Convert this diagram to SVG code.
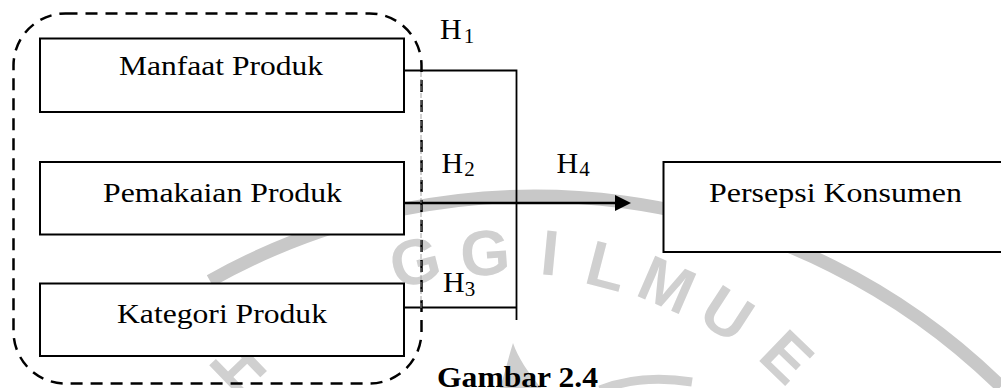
<svg xmlns="http://www.w3.org/2000/svg" width="1001" height="388" viewBox="0 0 1001 388">
  <style>
    .box { fill: #ffffff; stroke: #000000; stroke-width: 2; }
    .lbl { font-family: "Liberation Serif", "Times New Roman", serif; font-size: 27.5px; fill: #000000; }
    .hyp { font-family: "Liberation Serif", "Times New Roman", serif; font-size: 30px; fill: #000000; }
    .sub { font-size: 21px; }
    .wire { fill: none; stroke: #000000; stroke-width: 1.8; }
    .wm { font-family: "Liberation Sans", Arial, sans-serif; font-size: 64px; font-weight: bold; fill: #d0d0d0; text-anchor: middle; }
  </style>
  <defs>
    <marker id="arrow" markerUnits="userSpaceOnUse" markerWidth="16" markerHeight="16" viewBox="0 0 16 16" refX="0" refY="8" orient="auto">
      <path d="M0,0 L16,8 L0,16 Z" fill="#000000"/>
    </marker>
  </defs>

  <rect width="1001" height="388" fill="#ffffff"/>

  <!-- faint background seal -->
  <g id="seal">
    <path d="M210,280.8 A665,665 0 0 1 1001,386.6" fill="none" stroke="#c8c8c8" stroke-width="13"/>
    <path d="M500,388 C505,372 509,356 513,343 C518,358 528,372 541,388 Z" fill="#cecece"/>
    <path d="M600,390 Q640,374 692,382" fill="none" stroke="#d0d0d0" stroke-width="9"/>
    <text class="wm" transform="translate(238,368) rotate(-44)" y="22">H</text>
    <text class="wm" transform="translate(415,262) rotate(-14)" y="22">G</text>
    <text class="wm" transform="translate(485,253) rotate(-4)" y="22">G</text>
    <text class="wm" transform="translate(550,253) rotate(5.5)" y="22">I</text>
    <text class="wm" transform="translate(607,266) rotate(14.5)" y="22">L</text>
    <text class="wm" transform="translate(667,285) rotate(23.5)" y="22">M</text>
    <text class="wm" transform="translate(727,314) rotate(33)" y="22">U</text>
    <text class="wm" transform="translate(787,357) rotate(44)" y="22">E</text>
  </g>

  <!-- connectors -->
  <g id="connectors">
    <path class="wire" d="M404,70.5 H516.5 V320"/>
    <path class="wire" d="M404,307.5 H516.5"/>
    <path d="M404,203 H615" fill="none" stroke="#000000" stroke-width="2.6" marker-end="url(#arrow)"/>
  </g>

  <!-- independent variables -->
  <g id="manfaat">
    <rect class="box" x="40" y="38.5" width="364" height="73.5"/>
    <text class="lbl" x="119" y="75" textLength="204" lengthAdjust="spacingAndGlyphs">Manfaat Produk</text>
  </g>
  <g id="pemakaian">
    <rect class="box" x="40" y="162" width="364" height="72.5"/>
    <text class="lbl" x="103" y="201.5" textLength="239" lengthAdjust="spacingAndGlyphs">Pemakaian Produk</text>
  </g>
  <g id="kategori">
    <rect class="box" x="40" y="283.5" width="364" height="72.5"/>
    <text class="lbl" x="117" y="322.5" textLength="210" lengthAdjust="spacingAndGlyphs">Kategori Produk</text>
  </g>

  <!-- grouping outline -->
  <g id="group-outline">
    <rect x="13.5" y="13.5" width="408" height="370" rx="52" ry="52" fill="none" stroke="#000000" stroke-width="2.5" stroke-dasharray="12 8"/>
    <line x1="421" y1="72" x2="421" y2="310" stroke="#9a9a9a" stroke-width="0.9" stroke-dasharray="5 2"/>
  </g>

  <!-- dependent variable -->
  <g id="persepsi">
    <rect class="box" x="663.5" y="162" width="345" height="90"/>
    <text class="lbl" x="709" y="201.5" textLength="253" lengthAdjust="spacingAndGlyphs">Persepsi Konsumen</text>
  </g>

  <!-- hypothesis labels -->
  <g id="hypotheses">
    <text class="hyp" x="440" y="38.5">H<tspan class="sub" dx="2" dy="4">1</tspan></text>
    <text class="hyp" x="441.5" y="172.5">H<tspan class="sub" dx="1" dy="3">2</tspan></text>
    <text class="hyp" x="443" y="292">H<tspan class="sub" dx="0" dy="4">3</tspan></text>
    <text class="hyp" x="556.5" y="172.5">H<tspan class="sub" dx="1" dy="3">4</tspan></text>
  </g>

  <!-- caption -->
  <g id="caption">
    <text x="437" y="387" font-family="Liberation Serif, 'Times New Roman', serif" font-size="29" font-weight="bold" textLength="161" lengthAdjust="spacingAndGlyphs">Gambar 2.4</text>
  </g>
</svg>
